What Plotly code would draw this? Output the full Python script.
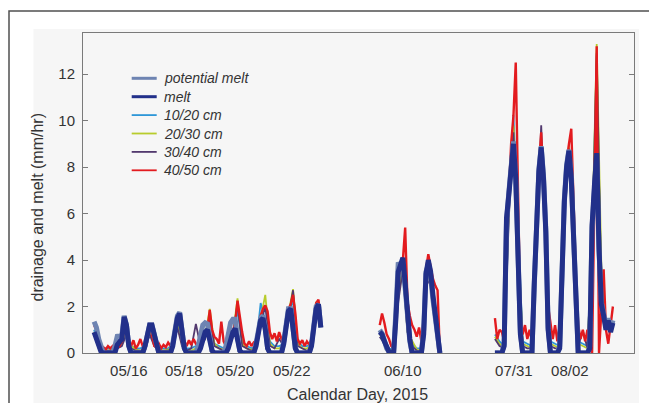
import plotly.graph_objects as go

# ---------------- data ----------------
# plot-day position of the first sample of each of the three measurement periods
SEG_START = [0.50, 10.79, 14.94]
MAIN_STEP_H = 2     # melt, potential melt, 40/50 cm sampled every 2 h
MINOR_STEP_H = 4    # 10/20, 20/30, 30/40 cm sampled every 4 h

TICK_POS = [2, 4, 6, 8, 10, 12, 14, 16, 18]
DATE_POS = [1.75, 3.73, 5.59, 7.62, 11.62, 15.62, 17.64]
DATE_LABELS = ["05/16", "05/18", "05/20", "05/22", "06/10", "07/31", "08/02"]
Y_TICKS = [0, 2, 4, 6, 8, 10, 12]

MAY_POTENTIAL = [1.35, 1.1, 0.6, 0.2, 0, 0, 0, 0, 0, 0.3,
                 0.72, 0.73, 0.75, 1.6, 1.2, 0.3, 0, 0, 0, 0,
                 0, 0, 0.3, 0.8, 1.2, 1.2, 0.8, 0.2, 0, 0,
                 0, 0, 0, 0, 0.4, 1.1, 1.6, 1.75, 0.9, 0.2,
                 0, 0, 0, 0, 0, 0.3, 0.8, 1.2, 1.3, 1.25,
                 0.7, 0.1, 0, 0, 0, 0, 0, 0.3, 0.9, 1.3,
                 1.45, 1.45, 0.7, 0.1, 0, 0, 0, 0, 0, 0,
                 0.4, 1.1, 1.5, 1.6, 1.1, 0.2, 0, 0, 0, 0,
                 0, 0, 0.5, 1.4, 1.9, 1.9, 1.2, 0.2, 0, 0,
                 0, 0, 0, 0, 0.4, 1.4, 2.0, 2.1, 1.1]
MAY_MELT = [0.9, 0.6, 0.3, 0.05, 0, 0, 0, 0, 0, 0,
            0.35, 0.45, 0.6, 1.55, 1.2, 0.3, 0, 0, 0, 0,
            0, 0, 0.3, 0.8, 1.2, 1.2, 0.8, 0.2, 0, 0,
            0, 0, 0, 0, 0.3, 0.9, 1.5, 1.7, 0.9, 0.2,
            0, 0, 0, 0, 0, 0, 0.2, 0.6, 0.9, 1.0,
            0.6, 0.1, 0, 0, 0, 0, 0, 0, 0.2, 0.6,
            0.9, 1.05, 0.5, 0.1, 0, 0, 0, 0, 0, 0,
            0.3, 0.9, 1.4, 1.5, 1.0, 0.2, 0, 0, 0, 0,
            0, 0, 0.4, 1.3, 1.8, 1.9, 1.2, 0.2, 0, 0,
            0, 0, 0, 0, 0.3, 1.3, 1.9, 2.1, 1.1]
MAY_D4050 = [1.2, 1.0, 0.3, 0.2, 0.25, 0.15, 0.3, 0.2, 0.3, 0.15,
             0.4, 0.3, 0.5, 0.9, 1.1, 0.5, 0.3, 0.55, 0.2, 0.35,
             0.6, 0.3, 0.4, 0.9, 1.1, 0.8, 0.3, 0.25, 0.4, 0.2,
             0.35, 0.25, 0.45, 0.3, 0.5, 0.9, 1.4, 1.6, 0.7, 0.5,
             0.3, 0.55, 0.35, 0.6, 0.4, 0.3, 0.4, 0.7, 0.9, 1.0,
             1.85, 1.0, 0.7, 0.6, 0.4, 1.35, 0.5, 0.3, 0.45, 0.6,
             0.9, 1.3, 2.25, 1.5, 0.9, 0.4, 0.3, 0.5, 0.3, 0.45,
             0.35, 0.9, 1.6, 1.9, 2.05, 1.8, 0.9, 0.6, 0.85, 0.5,
             0.9, 0.6, 0.4, 1.3, 1.9, 2.1, 2.5, 1.7, 0.6, 0.4,
             0.55, 0.3, 0.5, 0.35, 0.6, 1.5, 2.15, 2.3, 1.3]
MAY_D1020 = [1.0, 0.3, 0.2, 0.2, 0.2, 0.3, 0.6, 1.0, 0.3, 0.2,
             0.2, 0.3, 1.0, 0.5, 0.2, 0.2, 0.2, 0.4, 1.3, 0.6,
             0.2, 0.2, 0.3, 0.4, 0.8, 1.4, 0.4, 0.3, 0.2, 0.4,
             0.9, 1.8, 0.5, 0.3, 0.2, 0.3, 2.15, 1.4, 0.5, 0.3,
             0.3, 0.4, 1.8, 2.2, 0.5, 0.3, 0.3, 0.4, 1.9, 2.0]
MAY_D2030 = [0.9, 0.3, 0.15, 0.1, 0.15, 0.2, 0.4, 0.9, 0.3, 0.15,
             0.1, 0.2, 0.9, 0.4, 0.15, 0.1, 0.15, 0.3, 1.2, 0.4,
             0.15, 0.1, 0.2, 0.3, 0.7, 1.9, 0.4, 0.2, 0.15, 0.3,
             0.8, 2.35, 0.4, 0.2, 0.15, 0.2, 1.5, 2.5, 0.4, 0.2,
             0.2, 0.3, 1.7, 2.75, 0.4, 0.2, 0.2, 0.3, 2.2, 1.8]
MAY_D3040 = [0.8, 0.2, 0.1, 0.1, 0.1, 0.2, 0.3, 0.8, 0.2, 0.1,
             0.1, 0.1, 0.8, 0.3, 0.1, 0.1, 0.1, 0.2, 1.1, 0.3,
             0.1, 0.2, 1.25, 0.3, 0.6, 1.6, 0.3, 0.2, 0.1, 0.2,
             0.7, 2.15, 0.3, 0.2, 0.1, 0.2, 1.3, 2.0, 0.3, 0.2,
             0.6, 0.3, 1.6, 2.7, 0.3, 0.2, 0.1, 0.2, 1.9, 1.6]

JUN_POTENTIAL = [1.0, 0.85, 0.55, 0.2, 0.05, 0, 0, 1.8, 3.9, 3.7,
                 3.9, 2.8, 1.5, 0.5, 0, 0, 0, 0, 0, 1.0,
                 3.5, 3.8, 3.3, 2.3, 1.5, 0.7, 0]
JUN_MELT = [0.9, 0.8, 0.5, 0.2, 0.05, 0, 0, 1.5, 3.5, 3.8,
            4.1, 3.0, 1.6, 0.6, 0, 0, 0, 0, 0, 0.8,
            3.4, 4.0, 3.5, 2.5, 1.6, 0.8, 0]
JUN_D4050 = [1.2, 1.7, 1.3, 0.8, 0.6, 0.3, 0.2, 1.0, 3.2, 3.7,
             4.0, 5.4, 2.2, 1.6, 1.2, 1.0, 0.7, 1.1, 0.5, 1.5,
             3.6, 4.25, 3.7, 3.2, 2.9, 2.7, 0.0]
JUN_D1020 = [0.9, 0.6, 0.2, 0.1, 2.5, 3.8, 1.2, 0.4, 0.2, 0.2, 3.3, 3.4, 1.5, 0]
JUN_D2030 = [0.8, 0.6, 0.15, 0.05, 2.4, 3.7, 0.9, 0.5, 0.15, 0.1, 3.1, 3.3, 1.2, 0]
JUN_D3040 = [0.7, 0.4, 0.1, 0.05, 2.2, 3.6, 0.9, 0.3, 0.1, 0.05, 2.9, 3.2, 1.3, 0]

JA_POTENTIAL = [0, 0, 0, 0, 0.4, 5.6, 6.9, 8.4, 9.1, 7.6,
                4.1, 0.9, 0, 0, 0, 0, 0, 2.9, 5.6, 7.9,
                8.9, 7.6, 5.3, 1.1, 0, 0, 0, 0, 0.3, 3.6,
                6.6, 8.1, 8.75, 7.6, 5.1, 1.3, 0, 0, 0, 0,
                0, 0.3, 5.4, 7.0, 8.5, 4.4, 2.2, 1.7, 1.1, 1.5,
                1.0, 1.4]
JA_MELT = [0, 0, 0, 0, 0.3, 5.8, 6.8, 8.2, 9.0, 7.5,
           4.0, 0.8, 0, 0, 0, 0, 0, 3.0, 5.5, 7.8,
           8.85, 7.5, 5.2, 1.0, 0, 0, 0, 0, 0.2, 3.5,
           6.5, 8.0, 8.7, 7.5, 5.0, 1.2, 0, 0, 0, 0,
           0, 0.2, 5.5, 7.2, 8.6, 4.5, 2.1, 1.6, 1.0, 1.4,
           0.9, 1.3]
JA_D4050 = [1.5, 0.6, 1.0, 0.9, 0.5, 5.0, 6.8, 9.0, 10.2, 12.5,
            6.9, 1.5, 0.8, 1.2, 0.6, 1.0, 0.5, 2.5, 5.0, 8.0,
            9.5, 7.0, 4.8, 2.0, 1.3, 0.6, 1.2, 0.5, 1.2, 3.0,
            6.0, 8.2, 9.0, 9.65, 6.5, 3.3, 1.2, 0.6, 1.0, 0.5,
            1.0, 0.4, 0.0, 6.0, 13.2, 0.0, 2.0, 3.6, 1.0, 0.4,
            1.2, 2.0]
JA_D1020 = [0.8, 0.5, 0.3, 6.0, 10.25, 5.5, 0.5, 0.4, 0.3, 5.0,
            9.0, 4.5, 0.5, 0.4, 0.3, 5.8, 8.8, 5.0, 0.5, 0.4,
            0.3, 4.5, 12.8, 2.0, 1.2, 1.3]
JA_D2030 = [0.7, 0.4, 0.2, 6.2, 9.8, 5.2, 0.4, 0.3, 0.2, 5.2,
            9.25, 4.6, 0.4, 0.3, 0.2, 6.0, 9.0, 5.0, 0.4, 0.3,
            0.2, 4.8, 13.3, 3.75, 1.0, 1.2]
JA_D3040 = [0.6, 0.3, 0.2, 5.8, 9.5, 5.0, 0.3, 0.2, 0.2, 5.0,
            9.8, 4.4, 0.3, 0.2, 0.2, 5.6, 8.8, 4.8, 0.3, 0.95,
            0.2, 4.6, 12.9, 2.5, 1.0, 1.1]


def build(segments, step_h):
    xs, ys = [], []
    for start, vals in zip(SEG_START, segments):
        for k, v in enumerate(vals):
            xs.append(start + k * step_h / 24.0)
            ys.append(v)
        xs.append(None)
        ys.append(None)
    return xs, ys


FONT = "Liberation Sans, Arial, Helvetica, sans-serif"
TXT = "#333333"
AX = "#7a7a7a"

series = [
    # name, segments, step, color, plot width, legend rank, legend sample width
    ("10/20 cm", [MAY_D1020, JUN_D1020, JA_D1020], MINOR_STEP_H, "#2e97d8", 1.8, 3, 1.8),
    ("20/30 cm", [MAY_D2030, JUN_D2030, JA_D2030], MINOR_STEP_H, "#b8cc2c", 1.8, 4, 1.8),
    ("30/40 cm", [MAY_D3040, JUN_D3040, JA_D3040], MINOR_STEP_H, "#52396e", 1.8, 5, 1.8),
    ("40/50 cm", [MAY_D4050, JUN_D4050, JA_D4050], MAIN_STEP_H, "#e31b1f", 2.4, 6, 1.8),
    ("potential melt", [MAY_POTENTIAL, JUN_POTENTIAL, JA_POTENTIAL], MAIN_STEP_H, "#6e84b2", 5.0, 1, 3.0),
    ("melt", [MAY_MELT, JUN_MELT, JA_MELT], MAIN_STEP_H, "#22308a", 5.0, 2, 3.0),
]

# figure geometry (page has an 8px body margin)
W, H = 649, 395
ML, MR, MT, MB = 75, 23, 25, 50
PW, PH = W - ML - MR, H - MT - MB


def px_to_paper_x(fx):
    return (fx - ML) / PW


def px_to_paper_y(fy):
    return (H - MB - fy) / PH


fig = go.Figure()
for name, segs, step, color, width, rank, lw in series:
    x, y = build(segs, step)
    fig.add_trace(go.Scatter(x=x, y=y, mode="lines", name=name,
                             line=dict(color=color, width=width),
                             legendrank=rank, connectgaps=False,
                             showlegend=False))

# legend drawn as line samples + italic labels (tight row spacing as in the original)
shapes = [
    dict(type="rect", xref="paper", yref="paper",
         x0=px_to_paper_x(25.5), x1=px_to_paper_x(631), y0=-0.4, y1=px_to_paper_y(21),
         fillcolor="#f6f6f6", line=dict(width=0), layer="below"),
    dict(type="rect", xref="paper", yref="paper",
         x0=px_to_paper_x(1), x1=1.3, y0=-0.5, y1=px_to_paper_y(3),
         fillcolor="rgba(0,0,0,0)", line=dict(color="#505050", width=1.5),
         layer="below"),
]
annotations = [
    dict(text="drainage and melt (mm/hr)", xref="paper", yref="paper",
         x=px_to_paper_x(29), y=px_to_paper_y(199.5), xanchor="center", yanchor="middle",
         textangle=-90, showarrow=False, font=dict(size=16, color=TXT)),
    dict(text="Calendar Day, 2015", xref="paper", yref="paper",
         x=px_to_paper_x(349), y=px_to_paper_y(386), xanchor="center", yanchor="middle",
         showarrow=False, font=dict(size=16, color=TXT)),
]
legend_items = sorted(series, key=lambda s: s[5])
for k, (name, segs, step, color, width, rank, lw) in enumerate(legend_items):
    fy = 70.3 + k * 18.4
    shapes.append(dict(type="line", xref="paper", yref="paper",
                       x0=px_to_paper_x(123.7), x1=px_to_paper_x(148.7),
                       y0=px_to_paper_y(fy), y1=px_to_paper_y(fy),
                       line=dict(color=color, width=lw)))
    annotations.append(dict(text=name, xref="paper", yref="paper",
                            x=px_to_paper_x(153.5), y=px_to_paper_y(fy),
                            xanchor="left", yanchor="middle", showarrow=False,
                            font=dict(size=14, color=TXT, style="italic")))

XR = [0.10, 19.95]
fig.update_layout(
    width=W, height=H,
    margin=dict(l=ML, r=MR, t=MT, b=MB),
    paper_bgcolor="#ffffff",
    plot_bgcolor="#f6f6f6",
    font=dict(family=FONT, size=15, color=TXT),
    showlegend=False,
    xaxis=dict(range=XR, tickmode="array", tickvals=DATE_POS, ticktext=DATE_LABELS,
               ticks="", showgrid=False, zeroline=False, showline=True,
               linecolor=AX, linewidth=1, mirror=True, ticklabelstandoff=4,
               tickfont=dict(size=15, color=TXT)),
    xaxis2=dict(range=XR, overlaying="x", side="bottom", anchor="y",
                tickmode="array", tickvals=TICK_POS, showticklabels=False,
                ticks="inside", ticklen=5, tickcolor=AX,
                showgrid=False, zeroline=False, showline=True,
                linecolor=AX, linewidth=1, mirror="ticks"),
    yaxis=dict(range=[0, 13.77], tickmode="array", tickvals=Y_TICKS,
               ticks="inside", ticklen=5, tickcolor=AX,
               showgrid=False, zeroline=False, showline=True,
               linecolor=AX, linewidth=1, mirror="ticks", ticklabelstandoff=4,
               tickfont=dict(size=15, color=TXT)),
    shapes=shapes,
    annotations=annotations,
)

fig.write_html("out.html")
